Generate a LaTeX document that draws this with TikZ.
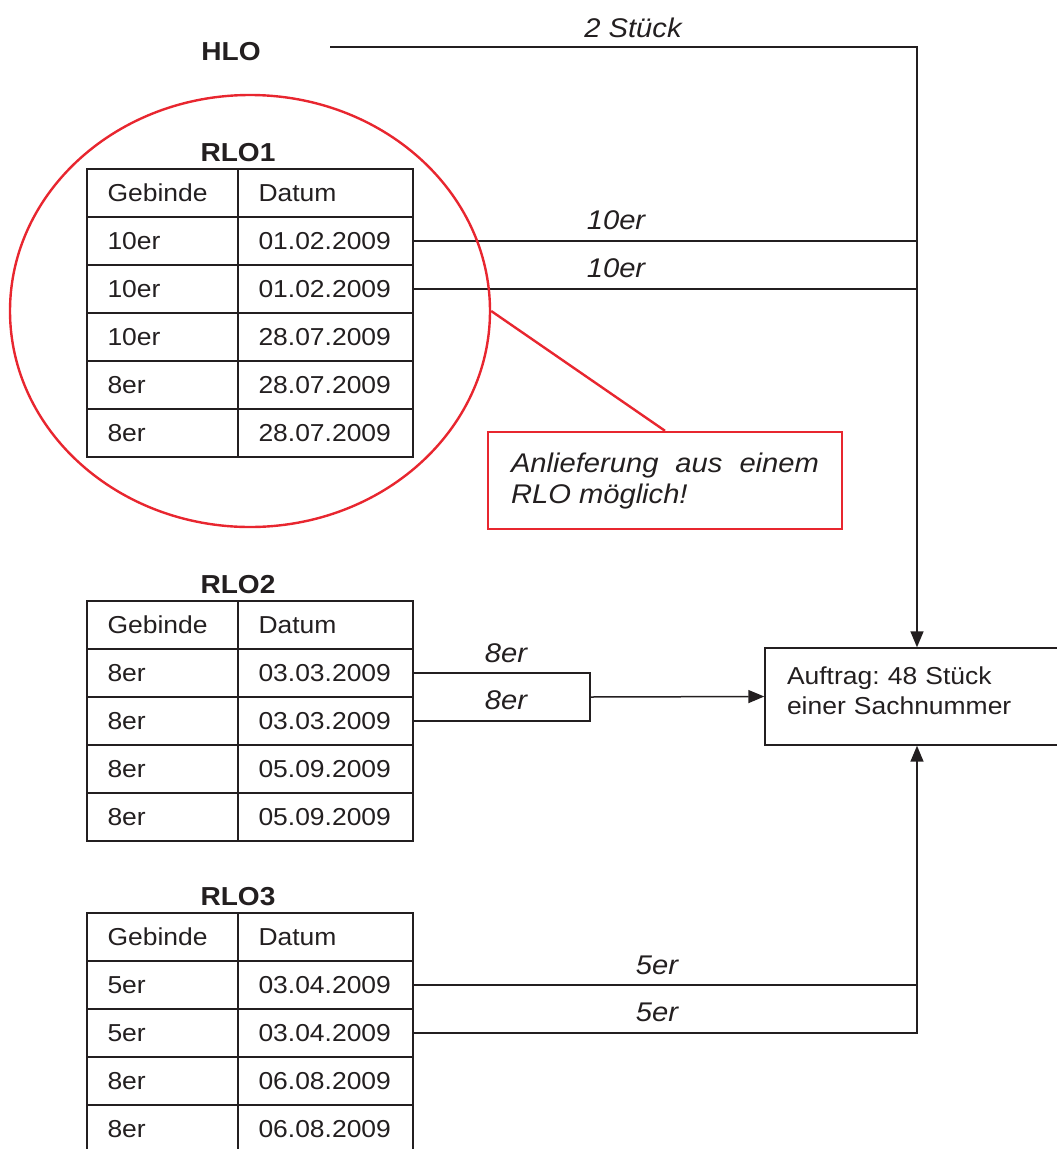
\documentclass[tikz,border=0pt]{standalone}
\usepackage{fontspec}
\setmainfont{Liberation Sans}[FakeStretch=1.08]
\usetikzlibrary{arrows.meta,shapes.geometric}
\definecolor{ink}{RGB}{35,31,32}
\definecolor{mred}{RGB}{232,38,47}
\frenchspacing
\newcommand\tabfont{\fontsize{24.5}{30}\selectfont}
\newcommand\lblfont{\fontsize{27}{31}\selectfont\itshape}
\newcommand\ttlfont{\fontsize{26}{30}\selectfont\bfseries}
\newcommand\rlotab[4]{%
  \node[ttl] (#1-t) at (238,#2-17) {#3};
  \foreach \g/\d [count=\i from 0] in {#4} {
    \node[cell,cella] (#1-\i-a) at (162.5,#2+24+48*\i) {\g};
    \node[cell,cellb] (#1-\i-b) at (325.5,#2+24+48*\i) {\d};
  }
}
\begin{document}
\begin{tikzpicture}[x=1pt,y=-1pt,
  every node/.style={text=ink},
  cell/.style={draw=ink, line width=1.4pt, minimum height=48pt, inner xsep=20.5pt,
    inner ysep=0pt, align=left, text height=17.5pt, text depth=0pt, font=\tabfont},
  cella/.style={text width=110pt},
  cellb/.style={text width=134pt},
  ttl/.style={font=\ttlfont, inner sep=0pt, text height=19pt, text depth=0pt},
  lbl/.style={font=\lblfont, inner sep=0pt, text height=19pt, text depth=0pt},
  conn/.style={draw=ink, line width=1.5pt},
  arr/.style={conn, -{Triangle[length=16pt,width=13pt]}},
  redline/.style={draw=mred, line width=2.4pt}
]
\useasboundingbox (0,0) rectangle (1057,1149);

% tables
\rlotab{rlo1}{169}{RLO1}{Gebinde/Datum,10er/01.02.2009,10er/01.02.2009,10er/28.07.2009,8er/28.07.2009,8er/28.07.2009}
\rlotab{rlo2}{601}{RLO2}{Gebinde/Datum,8er/03.03.2009,8er/03.03.2009,8er/05.09.2009,8er/05.09.2009}
\rlotab{rlo3}{913}{RLO3}{Gebinde/Datum,5er/03.04.2009,5er/03.04.2009,8er/06.08.2009,8er/06.08.2009}

% HLO
\node[ttl] (hlo) at (231,51) {HLO};
\coordinate (hlostart) at (330,47);

% target box
\node[draw=ink, line width=1.4pt, minimum width=304pt, minimum height=97pt,
  text width=260pt, inner xsep=22pt, align=left, font=\tabfont,
  text height=14pt, text depth=39pt] (auftrag) at (917,696.5)
  {Auftrag: 48 Stück\\einer Sachnummer};

% connectors
\draw[arr] (hlostart) -| (auftrag.north);
\draw[conn] (rlo1-1-b.east) -- (rlo1-1-b.east -| auftrag.north);
\draw[conn] (rlo1-2-b.east) -- (rlo1-2-b.east -| auftrag.north);

\coordinate (j8) at (590,697);
\draw[conn] (rlo2-1-b.east) -| (j8);
\draw[conn] (rlo2-2-b.east) -| (j8);
\draw[arr] (j8) -- (auftrag.west);

\draw[conn] (rlo3-1-b.east) -- (rlo3-1-b.east -| auftrag.south);
\draw[arr] (rlo3-2-b.east) -| (auftrag.south);

% labels
\node[lbl] (l2) at (633,28) {2 Stück};
\node[lbl] (l10a) at (616,220) {10er};
\node[lbl] (l10b) at (616,268) {10er};
\node[lbl] (l8a) at (506,653) {8er};
\node[lbl] (l8b) at (506,700) {8er};
\node[lbl] (l5a) at (657,965) {5er};
\node[lbl] (l5b) at (657,1012) {5er};

% red annotation
\node[ellipse, redline, minimum width=480pt, minimum height=432pt, inner sep=0pt] (circ) at (250,311) {};
\node[redline, minimum width=354pt, minimum height=97pt, text width=308pt,
  inner xsep=23pt, align=justify, font=\lblfont, text height=19pt, text depth=36pt] (note) at (665,480.5)
  {Anlieferung aus einem RLO möglich!};
\draw[redline] (circ.east) -- (note.north);
\end{tikzpicture}
\end{document}
